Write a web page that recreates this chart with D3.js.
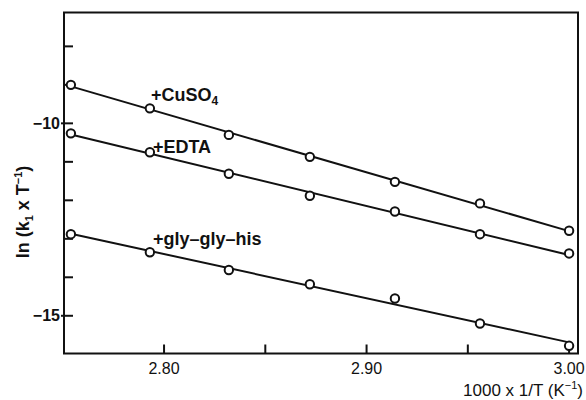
<!DOCTYPE html>
<html>
<head>
<meta charset="utf-8">
<script src="https://cdn.jsdelivr.net/npm/d3@7"></script>
<style>
  html, body { margin: 0; padding: 0; background: #fff; }
  svg { display: block; font-family: "Liberation Sans", Arial, sans-serif; }
</style>
</head>
<body>
<div id="chart"></div>
<script>
// 1000/T values (K^-1) for the seven temperatures
const invT = [2.754, 2.793, 2.832, 2.872, 2.914, 2.956, 3.000];

const cuso4 = [-9.00, -9.61, -10.30, -10.87, -11.52, -12.08, -12.79];
const edta = [-10.26, -10.75, -11.31, -11.88, -12.29, -12.88, -13.38];
const glyGlyHis = [-12.88, -13.35, -13.81, -14.18, -14.55, -15.20, -15.78];

const xTicks = [2.80, 2.85, 2.90, 2.95, 3.00];
const xTickLabels = ['2.80', '', '2.90', '', '3.00'];
const yTicks = [-8, -9, -10, -11, -12, -13, -14, -15];
const yTickLabels = { '-10': '\u221210', '-15': '\u221215' };

const seriesList = [
  { name: 'cuso4', values: cuso4, label: ['+CuSO', '4'], lx: 2.7935, ly: -9.43 },
  { name: 'edta', values: edta, label: ['+EDTA'], lx: 2.7945, ly: -10.78 },
  { name: 'gly', values: glyGlyHis, label: ['+gly\u2013gly\u2013his'], lx: 2.7945, ly: -13.17 }
];

const width = 586, height = 400;
const margin = { top: 12.5, right: 8, bottom: 46.5, left: 64 };
const innerW = width - margin.left - margin.right;
const innerH = height - margin.top - margin.bottom;

const svg = d3.select('#chart').append('svg')
  .attr('width', width)
  .attr('height', height);

const g = svg.append('g')
  .attr('transform', `translate(${margin.left},${margin.top})`);

const x = d3.scaleLinear().domain([2.7506, 3.0044]).range([0, innerW]);
const y = d3.scaleLinear().domain([-15.98, -7.12]).range([innerH, 0]);

// Frame
g.append('rect')
  .attr('width', innerW)
  .attr('height', innerH)
  .attr('fill', 'none')
  .attr('stroke', '#111')
  .attr('stroke-width', 2);

// Inward ticks on y axis
g.selectAll('.ytick')
  .data(yTicks)
  .join('line')
  .attr('x1', d => yTickLabels[d] ? -3 : 0)
  .attr('x2', 9)
  .attr('y1', d => y(d))
  .attr('y2', d => y(d))
  .attr('stroke', '#111')
  .attr('stroke-width', 2);

g.selectAll('.ylab')
  .data(yTicks.filter(d => yTickLabels[d]))
  .join('text')
  .attr('x', -4)
  .attr('y', d => y(d))
  .attr('dy', '0.35em')
  .attr('text-anchor', 'end')
  .attr('font-size', 16)
  .attr('font-weight', 'bold')
  .attr('fill', '#111')
  .text(d => yTickLabels[d]);

// Inward ticks on x axis
g.selectAll('.xtick')
  .data(xTicks)
  .join('line')
  .attr('x1', d => x(d))
  .attr('x2', d => x(d))
  .attr('y1', innerH)
  .attr('y2', innerH - 9)
  .attr('stroke', '#111')
  .attr('stroke-width', 2);

g.selectAll('.xlab')
  .data(xTicks.map((d, i) => ({ v: d, t: xTickLabels[i] })).filter(d => d.t))
  .join('text')
  .attr('x', d => x(d.v))
  .attr('y', innerH + 20)
  .attr('text-anchor', 'middle')
  .attr('font-size', 16)
  .attr('fill', '#111')
  .text(d => d.t);

// Axis titles
const xTitle = svg.append('text')
  .attr('x', 583)
  .attr('y', 396)
  .attr('text-anchor', 'end')
  .attr('font-size', 17)
  .attr('fill', '#111');
xTitle.append('tspan').text('1000 x 1/T (K');
xTitle.append('tspan').attr('font-size', 11).attr('dy', -7).text('\u22121');
xTitle.append('tspan').attr('dy', 7).text(')');

const yTitle = svg.append('text')
  .attr('transform', 'translate(29,212) rotate(-90)')
  .attr('text-anchor', 'middle')
  .attr('font-size', 18)
  .attr('font-weight', 'bold')
  .attr('fill', '#111');
yTitle.append('tspan').text('ln (k');
yTitle.append('tspan').attr('font-size', 11).attr('dy', 4).text('1');
yTitle.append('tspan').attr('dy', -4).text(' x T');
yTitle.append('tspan').attr('font-size', 11).attr('dy', -7).text('\u22121');
yTitle.append('tspan').attr('dy', 7).text(')');

// Least-squares line through each series
function fit(xs, ys) {
  const mx = d3.mean(xs), my = d3.mean(ys);
  const b = d3.sum(xs, (v, i) => (v - mx) * (ys[i] - my)) / d3.sum(xs, v => (v - mx) * (v - mx));
  return v => my + b * (v - mx);
}

const line = d3.line().x(d => x(d[0])).y(d => y(d[1]));

seriesList.forEach(s => {
  const f = fit(invT, s.values);
  const x0 = invT[0], x1 = invT[invT.length - 1];
  g.append('path')
    .datum([[x0, f(x0)], [x1, f(x1)]])
    .attr('fill', 'none')
    .attr('stroke', '#111')
    .attr('stroke-width', 2)
    .attr('d', line);

  g.selectAll('.pt-' + s.name)
    .data(invT.map((v, i) => [v, s.values[i]]))
    .join('circle')
    .attr('cx', d => x(d[0]))
    .attr('cy', d => y(d[1]))
    .attr('r', 4.2)
    .attr('fill', '#fff')
    .attr('stroke', '#111')
    .attr('stroke-width', 2);

  const t = g.append('text')
    .attr('x', x(s.lx))
    .attr('y', y(s.ly))
    .attr('font-size', 18)
    .attr('font-weight', 'bold')
    .attr('fill', '#111');
  t.append('tspan').text(s.label[0]);
  if (s.label[1]) {
    t.append('tspan').attr('font-size', 12).attr('dy', 4).text(s.label[1]);
  }
});
</script>
</body>
</html>
